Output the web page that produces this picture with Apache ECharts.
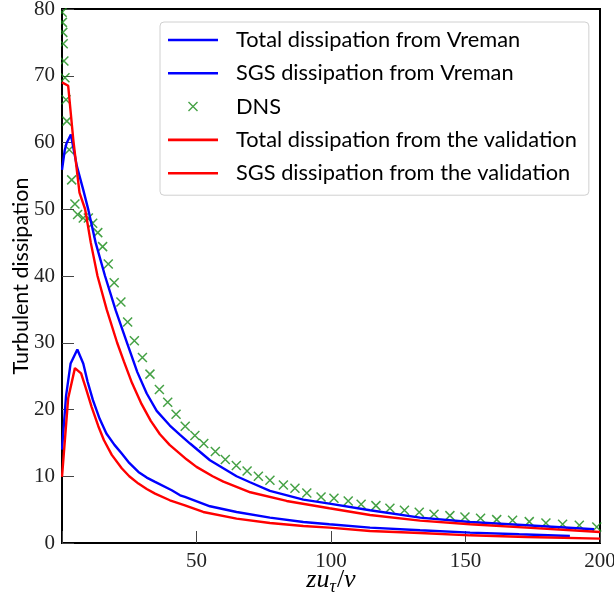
<!DOCTYPE html>
<html>
<head>
<meta charset="utf-8">
<script src="https://cdn.jsdelivr.net/npm/echarts@6/dist/echarts.min.js"></script>
<style>
  html, body { margin: 0; padding: 0; background: #fff; }
  #chart { width: 614px; height: 601px; }
</style>
</head>
<body>
<div id="chart"></div>
<script>
// Wall-normal coordinate (z u_tau / nu) and turbulent dissipation profiles
const vremanTotalX = [0, 1.0, 1.7, 3.3, 5.5, 7.9, 9.8, 12.5, 16.0, 20.0, 24.5, 28.0, 31.5, 35.2, 40.1, 43.9, 47.6, 55.0, 64.9, 69.9, 77.3, 89.7, 99.4, 114.5, 133.1, 151.7, 172.7, 197.8];
const vremanTotalY = [55.9, 58.8, 59.9, 61.2, 56.5, 52.9, 49.9, 45.0, 40.0, 34.8, 29.6, 25.6, 22.4, 19.8, 17.6, 16.2, 14.9, 12.4, 10.0, 9.1, 7.8, 6.5, 5.9, 4.9, 3.8, 3.15, 2.65, 2.05];

const vremanSgsX = [0, 1.5, 3.2, 5.7, 7.9, 9.5, 11.5, 14.0, 16.5, 19.5, 22.2, 25.0, 28.4, 31.5, 34.6, 40.8, 43.9, 45.7, 55.0, 64.9, 77.3, 89.7, 99.4, 114.5, 133.1, 151.7, 170.0, 188.8];
const vremanSgsY = [14.0, 22.0, 26.9, 29.0, 26.9, 24.2, 21.4, 18.6, 16.4, 14.7, 13.4, 12.0, 10.65, 9.8, 9.15, 7.9, 7.15, 6.9, 5.5, 4.65, 3.8, 3.15, 2.8, 2.3, 1.9, 1.55, 1.3, 1.05];

const dnsX = [0.05, 0.15, 0.3, 0.45, 0.7, 1.1, 1.5, 1.8, 2.7, 3.6, 4.8, 5.8, 7.9, 9.8, 11.4, 13.3, 15.1, 17.2, 19.4, 21.9, 24.4, 26.9, 29.9, 32.7, 36.2, 39.3, 42.4, 45.8, 49.4, 52.7, 57.0, 60.7, 64.8, 68.8, 73.0, 77.3, 82.3, 86.6, 91.0, 96.3, 101.1, 106.4, 111.2, 116.7, 121.9, 127.3, 132.8, 138.3, 144.2, 149.8, 155.6, 161.6, 167.5, 173.7, 179.9, 186.1, 192.3, 198.8];
const dnsY = [79.5, 78.0, 76.5, 74.8, 72.2, 69.7, 66.4, 63.2, 58.9, 54.4, 50.8, 49.2, 48.7, 48.7, 47.9, 46.5, 44.4, 41.8, 39.0, 36.1, 33.1, 30.3, 27.8, 25.3, 23.0, 21.1, 19.3, 17.5, 16.1, 14.9, 13.7, 12.5, 11.6, 10.8, 10.0, 9.4, 8.7, 8.2, 7.5, 6.9, 6.7, 6.3, 5.8, 5.6, 5.2, 4.9, 4.6, 4.3, 4.1, 3.9, 3.7, 3.5, 3.4, 3.2, 3.0, 2.8, 2.65, 2.4];

const validTotalX = [0, 2.3, 4.2, 6.5, 8.6, 10.7, 13.2, 16.6, 20.5, 23.0, 26.0, 29.6, 33.0, 36.4, 40.0, 46.4, 50.0, 56.0, 60.0, 70.0, 83.5, 99.4, 114.5, 133.1, 151.7, 172.7, 200];
const validTotalY = [69.0, 68.5, 60.4, 52.5, 50.0, 45.0, 40.0, 35.0, 30.0, 27.2, 24.0, 20.8, 18.3, 16.3, 14.7, 12.5, 11.4, 10.0, 9.2, 7.6, 6.3, 5.2, 4.2, 3.35, 2.8, 2.3, 1.65];

const validSgsX = [0, 2.3, 4.8, 7.1, 9.0, 11.0, 13.5, 15.6, 18.5, 22.2, 25.0, 28.4, 31.5, 34.6, 40.1, 45.7, 52.5, 64.9, 77.3, 89.7, 99.4, 114.5, 133.1, 151.7, 172.7, 200];
const validSgsY = [9.9, 21.7, 26.2, 25.4, 23.0, 20.4, 17.5, 15.4, 13.2, 11.2, 10.0, 8.9, 8.1, 7.4, 6.4, 5.65, 4.65, 3.65, 3.0, 2.55, 2.3, 1.8, 1.5, 1.15, 0.9, 0.65];

const xTicks = { min: 0, max: 200, interval: 50 };
const yTicks = { min: 0, max: 80, interval: 10 };

const seriesNames = [
  'Total dissipation from Vreman',
  'SGS dissipation from Vreman',
  'DNS',
  'Total dissipation from the validation',
  'SGS dissipation from the validation'
];

function pairs(xs, ys) { return xs.map((x, i) => [x, ys[i]]); }

const BLUE = '#0000ff', RED = '#ff0000', GREEN = '#178a17';
const crossPath = 'path://M0,0 L10,10 M10,0 L0,10';
const linePath = 'path://M0,0 L50,0 L50,2.6 L0,2.6 Z';

const GRID = { left: 62, top: 9, right: 14, bottom: 58 };

function lineSeries(name, xs, ys, color) {
  return {
    name: name, type: 'line', data: pairs(xs, ys),
    showSymbol: false, symbol: 'none', smooth: false,
    lineStyle: { color: color, width: 2.4 },
    itemStyle: { color: color },
    animation: false
  };
}

const chart = echarts.init(document.getElementById('chart'));
chart.setOption({
  backgroundColor: '#ffffff',
  animation: false,
  grid: {
    left: GRID.left, top: GRID.top, right: GRID.right, bottom: GRID.bottom,
    containLabel: false, outerBoundsMode: 'none',
    show: true, borderColor: '#000', borderWidth: 2, backgroundColor: 'transparent'
  },
  // markers are clipped at the plot frame: white strips just outside the left and top edges
  graphic: [
    { type: 'rect', z: 100, silent: true, shape: { x: 55, y: 0, width: 6, height: 601 - GRID.bottom }, style: { fill: '#fff' } },
    { type: 'rect', z: 100, silent: true, shape: { x: 55, y: 0, width: 120, height: GRID.top - 1 }, style: { fill: '#fff' } }
  ],
  legend: {
    orient: 'vertical',
    left: 160, top: 22,
    padding: [7, 12, 11, 8],
    itemGap: 11.3,
    itemWidth: 50, itemHeight: 9,
    backgroundColor: '#fff',
    borderColor: '#d0d0d0', borderWidth: 1, borderRadius: 4,
    textStyle: { fontFamily: 'Lato', fontSize: 21.8, color: '#000', padding: [0, 0, 0, 13] },
    data: [
      { name: seriesNames[0], icon: linePath, itemStyle: { color: BLUE } },
      { name: seriesNames[1], icon: linePath, itemStyle: { color: BLUE } },
      { name: seriesNames[2], icon: crossPath, itemStyle: { color: 'rgba(0,0,0,0)', borderColor: GREEN, borderWidth: 1.4 } },
      { name: seriesNames[3], icon: linePath, itemStyle: { color: RED } },
      { name: seriesNames[4], icon: linePath, itemStyle: { color: RED } }
    ],
    selectedMode: false
  },
  xAxis: {
    type: 'value', min: xTicks.min, max: xTicks.max, interval: xTicks.interval,
    name: '{i|zu}{s|τ}{n|/}{i|ν}',
    nameLocation: 'middle', nameGap: 22, nameMoveOverlap: false,
    nameTextStyle: {
      rich: {
        i: { fontFamily: 'Liberation Serif', fontStyle: 'italic', fontSize: 26, color: '#000' },
        s: { fontFamily: 'Liberation Serif', fontStyle: 'italic', fontSize: 18, color: '#000', padding: [13, 1, 0, 0] },
        n: { fontFamily: 'Liberation Serif', fontSize: 26, color: '#000' }
      }
    },
    axisLine: { show: true, lineStyle: { color: '#000', width: 2 } },
    axisTick: { show: true, inside: true, length: 12, lineStyle: { color: '#444', width: 1 } },
    axisLabel: {
      fontFamily: 'Liberation Serif', fontSize: 21, color: '#222', margin: 8,
      formatter: v => (v === 0 ? '' : String(v))
    },
    splitLine: { show: false }
  },
  yAxis: {
    type: 'value', min: yTicks.min, max: yTicks.max, interval: yTicks.interval,
    name: 'Turbulent dissipation',
    nameLocation: 'middle', nameGap: 30, nameMoveOverlap: false,
    nameTextStyle: { fontFamily: 'Lato', fontSize: 21.5, color: '#000' },
    axisLine: { show: true, lineStyle: { color: '#000', width: 2 } },
    axisTick: { show: true, inside: true, length: 12, lineStyle: { color: '#444', width: 1 } },
    axisLabel: { fontFamily: 'Liberation Serif', fontSize: 21, color: '#222', margin: 7 },
    splitLine: { show: false }
  },
  series: [
    lineSeries(seriesNames[0], vremanTotalX, vremanTotalY, BLUE),
    lineSeries(seriesNames[1], vremanSgsX, vremanSgsY, BLUE),
    {
      name: seriesNames[2], type: 'scatter', data: pairs(dnsX, dnsY),
      symbol: crossPath, symbolSize: 9,
      itemStyle: { color: 'rgba(0,0,0,0)', borderColor: GREEN, borderWidth: 1.5 },
      animation: false
    },
    lineSeries(seriesNames[3], validTotalX, validTotalY, RED),
    lineSeries(seriesNames[4], validSgsX, validSgsY, RED)
  ]
});
</script>
</body>
</html>
